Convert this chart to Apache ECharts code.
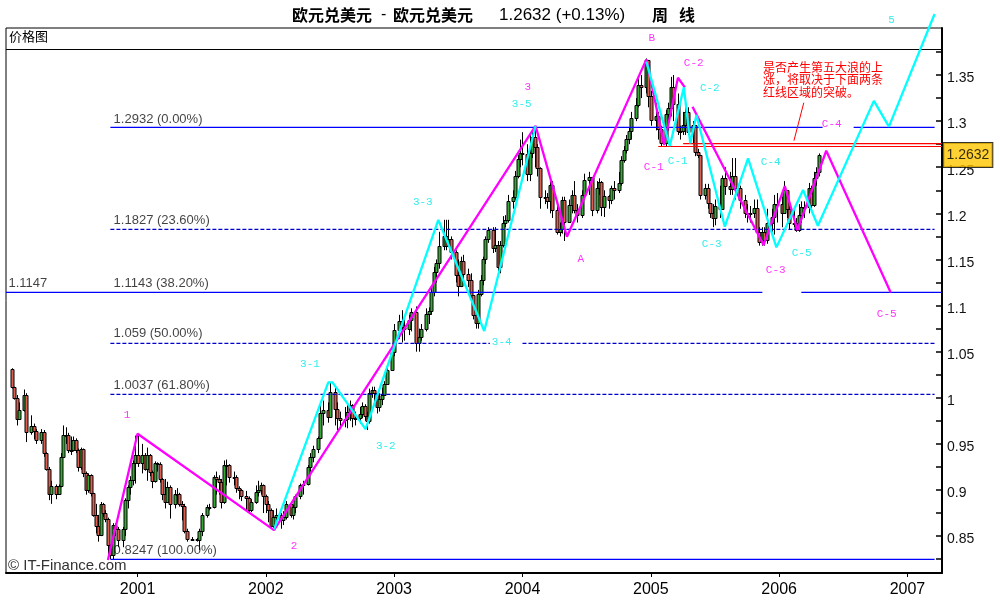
<!DOCTYPE html>
<html>
<head>
<meta charset="utf-8">
<style>html,body{margin:0;padding:0;background:#fff}#chart{width:1000px;height:600px}</style>
<script src="https://cdn.jsdelivr.net/npm/echarts@6/dist/echarts.min.js"></script>
</head>
<body>
<div id="chart"></div>
<script>
const firstOpen = 1.031;
// week number since Jan 2000, close, high, low of each bar; open is the previous close
const barWeeks = [
  1,2,3,4,6,7,9,10,11,13, 14,15,16,17,19,20,21,22,23,24, 25,26,27,28,29,30,31,32,33,34,
  35,36,37,38,39,40,41,42,43,44, 46,47,48,49,50,51,52,54,55,56, 57,58,59,60,61,62,63,64,65,67,
  68,69,70,71,72,74,76,77,78,80, 81,83,84,85,86,87,88,89,91,92, 93,94,96,97,98,100,101,102,103,104,
  105,106,107,108,110,111,112,114,115,116, 118,119,121,122,123,125,126,127,129,130, 132,133,134,136,137,138,139,140,142,143,
  144,145,146,147,148,149,150,151,152,153, 155,156,158,159,160,162,163,165,166,167, 169,170,171,172,173,174,176,177,178,179,
  181,182,183,184,186,187,188,189,190,191, 192,193,194,196,197,198,199,200,201,202, 204,205,206,207,208,210,211,212,213,214,
  215,217,218,219,220,222,223,224,225,227, 228,229,230,232,233,235,236,238,239,240, 241,243,244,245,247,248,249,250,251,252,
  254,255,256,258,259,260,262,263,264,266, 267,268,269,271,272,273,274,275,277,278, 279,280,282,283,284,285,286,288,289,290,
  292,293,294,296,298,299,300,302,303,304, 305,306,307,309,310,311,313,314,315,316, 318,319,320,321,322,324,325,326,327,328,
];
const barCloses = [
  1.012,1.000,.977,.987,1.003,.963,.969,.964,.954,.963, .940,.923,.896,.904,.896,.904,.936,.960,.960,.943, .943,.954,.943,.925,.944,.918,.900,.916,.897,.873,
  .861,.851,.885,.875,.869,.840,.829,.862,.858,.846, .858,.889,.903,.911,.929,.938,.929,.938,.923,.938, .919,.910,.929,.928,.912,.896,.887,.903,.885,.896,
  .896,.885,.883,.856,.847,.847,.846,.856,.873,.882, .882,.914,.912,.909,.887,.927,.927,.914,.914,.902, .900,.893,.891,.878,.887,.898,.900,.905,.893,.885,
  .878,.861,.871,.873,.867,.871,.885,.873,.882,.893, .905,.907,.925,.936,.945,.956,.983,.987,.979,1.006, .988,.978,.976,.977,.985,.992,.978,.978,.982,.991,
  .980,.975,1.005,1.008,1.005,.990,.999,1.003,1.015,1.030, 1.050,1.074,1.083,1.077,1.075,1.084,1.093,1.059,1.066,1.075, 1.091,1.094,1.115,1.136,1.146,1.165,1.175,1.165,1.172,1.158,
  1.133,1.121,1.148,1.134,1.128,1.111,1.090,1.081,1.113,1.128, 1.150,1.172,1.182,1.162,1.166,1.142,1.166,1.189,1.193,1.213, 1.218,1.241,1.259,1.265,1.264,1.243,1.265,1.283,1.272,1.249,
  1.218,1.218,1.213,1.231,1.204,1.180,1.183,1.215,1.191,1.209, 1.220,1.204,1.198,1.220,1.236,1.239,1.204,1.227,1.234,1.207, 1.219,1.214,1.227,1.225,1.233,1.258,1.269,1.281,1.289,1.303,
  1.317,1.339,1.337,1.366,1.327,1.301,1.306,1.292,1.276,1.308, 1.314,1.337,1.319,1.289,1.289,1.296,1.310,1.288,1.296,1.267, 1.263,1.220,1.228,1.211,1.200,1.195,1.208,1.205,1.238,1.230,
  1.226,1.241,1.227,1.214,1.200,1.200,1.200,1.206,1.180,1.169, 1.180,1.171,1.190,1.196,1.210,1.210,1.200,1.225,1.205,1.190, 1.190,1.182,1.198,1.207,1.207,1.228,1.209,1.238,1.245,1.2632,
];
const barHighs = [
  1.032,1.012,1.003,.995,1.009,1.005,.981,.972,.966,.966, .965,.941,.925,.910,.906,.906,.940,.970,.968,.962, .958,.958,.956,.945,.946,.945,.920,.918,.917,.897,
  .885,.873,.887,.886,.878,.870,.841,.864,.864,.860, .860,.891,.905,.915,.932,.959,.959,.950,.940,.946, .939,.921,.931,.930,.930,.913,.912,.909,.905,.900,
  .902,.897,.888,.885,.858,.849,.848,.858,.875,.884, .885,.916,.920,.916,.912,.932,.933,.928,.920,.916, .904,.901,.899,.893,.890,.905,.910,.908,.906,.895,
  .888,.880,.878,.880,.875,.877,.888,.887,.884,.895, .907,.910,.927,.940,.948,.958,.995,.997,.995,1.017, 1.012,.995,.985,.990,.992,.997,.993,.985,.990,.995,
  .993,.985,1.010,1.012,1.012,1.000,1.005,1.011,1.018,1.035, 1.055,1.080,1.090,1.095,1.085,1.090,1.097,1.099,1.075,1.080, 1.097,1.098,1.120,1.142,1.150,1.180,1.193,1.193,1.193,1.175,
  1.160,1.150,1.153,1.155,1.140,1.135,1.100,1.095,1.117,1.133, 1.153,1.175,1.185,1.185,1.185,1.170,1.170,1.197,1.198,1.220, 1.225,1.246,1.263,1.280,1.288,1.275,1.285,1.290,1.292,1.275,
  1.250,1.225,1.222,1.238,1.235,1.210,1.190,1.218,1.218,1.215, 1.225,1.235,1.210,1.225,1.243,1.245,1.235,1.235,1.238,1.235, 1.225,1.220,1.230,1.235,1.245,1.262,1.273,1.285,1.293,1.310,
  1.325,1.346,1.350,1.368,1.365,1.333,1.320,1.310,1.295,1.312, 1.320,1.348,1.350,1.330,1.295,1.310,1.315,1.315,1.300,1.283, 1.270,1.262,1.232,1.232,1.210,1.210,1.215,1.230,1.241,1.250,
  1.245,1.260,1.260,1.230,1.220,1.210,1.208,1.215,1.215,1.185, 1.185,1.185,1.205,1.205,1.220,1.222,1.218,1.235,1.225,1.208, 1.205,1.195,1.210,1.213,1.213,1.233,1.230,1.245,1.250,1.265,
];
const barLows = [
  1.010,.998,.970,.977,.985,.952,.960,.955,.950,.950, .936,.921,.889,.885,.890,.896,.903,.935,.950,.940, .938,.942,.940,.920,.922,.914,.895,.897,.893,.871,
  .853,.844,.850,.871,.865,.829,.825,.825,.850,.838, .838,.850,.880,.895,.905,.907,.925,.918,.921,.910, .915,.902,.908,.920,.908,.889,.880,.886,.869,.880,
  .885,.882,.867,.853,.844,.845,.844,.835,.850,.870, .878,.880,.895,.895,.880,.885,.905,.908,.905,.897, .890,.888,.878,.874,.876,.885,.893,.895,.875,.875,
  .865,.859,.858,.862,.858,.862,.868,.870,.868,.875, .890,.895,.905,.920,.930,.940,.955,.970,.973,.982, .970,.965,.966,.968,.967,.975,.968,.970,.972,.978,
  .975,.965,.972,1.000,.995,.983,.985,.992,1.002,1.015, 1.040,1.045,1.064,1.060,1.062,1.068,1.072,1.050,1.050,1.062, 1.072,1.080,1.090,1.110,1.125,1.140,1.160,1.160,1.165,1.150,
  1.125,1.110,1.120,1.125,1.120,1.105,1.085,1.075,1.075,1.110, 1.122,1.145,1.168,1.157,1.158,1.135,1.135,1.163,1.185,1.190, 1.205,1.215,1.238,1.250,1.252,1.235,1.235,1.260,1.250,1.240,
  1.205,1.210,1.205,1.200,1.195,1.177,1.175,1.178,1.170,1.195, 1.200,1.200,1.190,1.195,1.215,1.220,1.197,1.200,1.220,1.197, 1.196,1.205,1.210,1.215,1.222,1.230,1.255,1.265,1.275,1.280,
  1.300,1.315,1.325,1.330,1.315,1.295,1.290,1.280,1.273,1.272, 1.290,1.305,1.300,1.285,1.280,1.285,1.285,1.285,1.275,1.262, 1.260,1.215,1.215,1.205,1.195,1.185,1.187,1.195,1.205,1.220,
  1.220,1.220,1.215,1.205,1.195,1.190,1.190,1.195,1.177,1.165, 1.165,1.165,1.167,1.180,1.177,1.190,1.185,1.200,1.195,1.182, 1.185,1.180,1.180,1.190,1.195,1.200,1.205,1.207,1.230,1.240,
];

// wave counts, [week, price] along each drawn line
const mainWaveWeeks = [40, 52, 107.3, 213.3, 226, 258.2, 265.4, 271, 273.8];
const mainWavePrices = [.824, .961, .8565, 1.2948, 1.1747, 1.367, 1.2741, 1.347, 1.3366];
const wave5cWeeks = [276.9, 305.7, 314.3, 319.4, 331.1, 357.2];
const wave5cPrices = [1.3157, 1.1656, 1.2296, 1.1818, 1.2679, 1.1142];
const subWaveWeeks = [107.3, 129.3, 131, 144.4, 173.9, 192.5, 213.3];
const subWavePrices = [.8572, 1.0167, 1.0167, .966, 1.1928, 1.0724, 1.2948];
const cWaveWeeks = [258.2, 267.7, 273.4, 276, 278.5, 290, 299.4, 310.9, 321.7, 327.7, 350.4, 356.5, 375];
const cWavePrices = [1.3645, 1.273, 1.3366, 1.2759, 1.3066, 1.1855, 1.2596, 1.1631, 1.2253, 1.1866, 1.322, 1.294, 1.4162];

// retracement levels; the breaks leave room for the wave labels
const levelSolidPrices = [1.2932, 1.2932, 1.1143, 1.1143, .8247];
const levelSolidStarts = [41, 342.2, -1.3, 321, 41];
const levelSolidEnds = [329.6, 375, 305.2, 378, 375];
const levelDashPrices = [1.1827, 1.059, 1.059, 1.0037];
const levelDashStarts = [41, 41, 208, 41];
const levelDashEnds = [375, 194.8, 375, 375];
const levelTexts = ["1.2932 (0.00%)", "1.1827 (23.60%)", "1.1143 (38.20%)", "1.059 (50.00%)", "1.0037 (61.80%)", "0.8247 (100.00%)", "1.1147"];
const levelTextWeeks = [42.1, 42.1, 42.1, 42.1, 42.1, 42.1, -0.5];
const levelTextPrices = [1.3024, 1.1928, 1.1244, 1.0702, 1.0138, .8348, 1.1244];

const redPrices = [1.2757, 1.2725];
const redStarts = [273.1, 263];
const redEnd = 378;
const leaderWeeks = [322, 318];
const leaderPrices = [1.32, 1.2788];

const magentaTexts = ["1", "2", "3", "A", "B", "C-1", "C-2", "C-3", "C-4", "C-5"];
const magentaWeeks = [47.8, 115.4, 210.2, 231.6, 260.4, 261.2, 277.4, 310.6, 333.3, 355.6];
const magentaPrices = [.9812, .8391, 1.3371, 1.1505, 1.3902, 1.2503, 1.3631, 1.1385, 1.2969, 1.0908];
const cyanTexts = ["3-1", "3-2", "3-3", "3-4", "3-5", "C-1", "C-2", "C-3", "C-4", "C-5", "5"];
const cyanWeeks = [121.9, 152.6, 167.6, 199.6, 207.7, 270.9, 283.9, 284.7, 308.6, 321.1, 357.6];
const cyanPrices = [1.0366, .9476, 1.2123, 1.0604, 1.3186, 1.2568, 1.336, 1.1667, 1.2557, 1.157, 1.4097];

const noteText = "是否产生第五大浪的上\n涨，将取决于下面两条\n红线区域的突破。";
const lastPrice = 1.2632;

const yearTicks = [52, 104, 156, 208, 260, 312, 364];
const yearLabels = ["2001", "2002", "2003", "2004", "2005", "2006", "2007"];
const priceTicks = [.825, .85, .875, .9, .925, .95, .975, 1, 1.025, 1.05, 1.075, 1.1, 1.125, 1.15, 1.175, 1.2, 1.225, 1.25, 1.275, 1.3, 1.325, 1.35, 1.375];
const priceLabels = [.85, .9, .95, 1, 1.05, 1.1, 1.15, 1.2, 1.25, 1.3, 1.35];

const latin = '"Liberation Sans", Arial, sans-serif';
const cjk = '"Noto Sans CJK SC", sans-serif';
const mono = '"Liberation Mono", monospace';

const barData = barWeeks.map((week, i) => [
  week, i === 0 ? firstOpen : barCloses[i - 1], barCloses[i], barLows[i], barHighs[i],
]);

function renderBar(params, api) {
  const week = api.value(0);
  const open = api.coord([week, api.value(1)]);
  const close = api.coord([week, api.value(2)]);
  const low = api.coord([week, api.value(3)]);
  const high = api.coord([week, api.value(4)]);
  const x = Math.round(open[0]) + 0.5;
  const top = Math.round(Math.min(open[1], close[1])) + 0.5;
  const bottom = Math.round(Math.max(open[1], close[1])) + 0.5;
  return {
    type: "group",
    children: [
      {
        type: "line",
        shape: { x1: x, y1: high[1], x2: x, y2: low[1] },
        style: { stroke: "#000", lineWidth: 1 },
      },
      {
        type: "rect",
        shape: { x: x - 1.5, y: top, width: 3, height: Math.max(bottom - top, 1) },
        style: {
          fill: close[1] <= open[1] ? "#35a835" : "#dd5f50",
          stroke: "#000",
          lineWidth: 1,
        },
      },
    ],
  };
}

function lineSeries(weeks, prices, color, width, type) {
  return {
    type: "line",
    data: weeks.map((week, i) => [week, prices[i]]),
    showSymbol: false,
    symbol: "none",
    clip: false,
    silent: true,
    z: 5,
    lineStyle: { color, width, type: type || "solid", cap: "butt" },
  };
}

function textSeries(weeks, prices, texts, label) {
  return {
    type: "scatter",
    data: weeks.map((week, i) => ({ value: [week, prices[i]], name: texts[i] })),
    symbolSize: 1,
    clip: false,
    silent: true,
    z: 6,
    itemStyle: { color: "transparent" },
    label: { show: true, formatter: "{b}", ...label },
  };
}

const series = [
  {
    type: "custom",
    data: barData,
    renderItem: renderBar,
    encode: { x: 0, y: [1, 2, 3, 4] },
    silent: true,
    z: 2,
  },
];
levelSolidPrices.forEach((price, i) => {
  series.push(lineSeries([levelSolidStarts[i], levelSolidEnds[i]], [price, price], "#0000ff", 1.2));
});
levelDashPrices.forEach((price, i) => {
  series.push(lineSeries([levelDashStarts[i], levelDashEnds[i]], [price, price], "#0000cc", 1.2, [4, 2]));
});
redPrices.forEach((price, i) => {
  series.push(lineSeries([redStarts[i], redEnd], [price, price], "#ff0000", 1.2));
});
series.push(lineSeries(leaderWeeks, leaderPrices, "#ff0000", 1));
series.push(lineSeries(mainWaveWeeks, mainWavePrices, "#ff00ff", 2.3));
series.push(lineSeries(wave5cWeeks, wave5cPrices, "#ff00ff", 2.3));
series.push(lineSeries(subWaveWeeks, subWavePrices, "#00ffff", 2.3));
series.push(lineSeries(cWaveWeeks, cWavePrices, "#00ffff", 2.3));
series.push(textSeries(magentaWeeks, magentaPrices, magentaTexts, {
  position: "inside", color: "#ff00ff", fontSize: 11, fontFamily: mono,
}));
series.push(textSeries(cyanWeeks, cyanPrices, cyanTexts, {
  position: "inside", color: "#00e8e8", fontSize: 11, fontFamily: mono,
}));
series.push(textSeries(levelTextWeeks, levelTextPrices, levelTexts, {
  position: "right", distance: 0, color: "#111", fontSize: 13, fontFamily: latin,
}));
series.push(textSeries([378], [lastPrice], [lastPrice.toFixed(4)], {
  position: "right", distance: 1, color: "#000", fontSize: 14, fontFamily: latin,
  backgroundColor: "#ffc600", borderColor: "#000", borderWidth: 1, padding: [5, 3],
}));

const chart = echarts.init(document.getElementById("chart"), null, { renderer: "canvas" });
chart.setOption({
  animation: false,
  backgroundColor: "#fff",
  grid: { left: 6, right: 58, top: 28, bottom: 27, show: true, borderColor: "#000", borderWidth: 1 },
  xAxis: {
    type: "value",
    min: -1.3,
    max: 378,
    splitLine: { show: false },
    axisLine: { onZero: false, lineStyle: { color: "#000", width: 2 } },
    axisTick: { length: 4, lineStyle: { color: "#000" }, customValues: yearTicks },
    axisLabel: {
      customValues: yearTicks,
      formatter: (value) => yearLabels[yearTicks.indexOf(value)],
      color: "#000",
      fontSize: 16,
      fontFamily: latin,
      margin: 9,
    },
  },
  yAxis: {
    type: "value",
    position: "right",
    min: 0.81,
    max: 1.401,
    splitLine: { show: false },
    axisLine: { show: true, onZero: false, lineStyle: { color: "#000", width: 2 } },
    axisTick: { show: true, inside: true, length: 6, lineStyle: { color: "#000", width: 1.5 }, customValues: priceTicks },
    axisLabel: {
      customValues: priceLabels,
      color: "#111",
      fontSize: 14,
      fontFamily: latin,
      margin: 5,
      verticalAlign: "top",
      lineHeight: 7,
    },
  },
  graphic: [
    { type: "line", z: 1, shape: { x1: 6, y1: 49.5, x2: 942, y2: 49.5 }, style: { stroke: "#000", lineWidth: 1 } },
    { type: "text", left: 292, top: 7, style: { text: "欧元兑美元", font: `bold 16px ${cjk}`, fill: "#000" } },
    { type: "text", left: 381, top: 7, style: { text: "-", font: `16px ${latin}`, fill: "#000" } },
    { type: "text", left: 393, top: 7, style: { text: "欧元兑美元", font: `bold 16px ${cjk}`, fill: "#000" } },
    { type: "text", left: 499, top: 7, style: { text: "1.2632 (+0.13%)", font: `17px ${latin}`, fill: "#000" } },
    { type: "text", left: 652, top: 7, style: { text: "周", font: `bold 16px ${cjk}`, fill: "#000" } },
    { type: "text", left: 679, top: 7, style: { text: "线", font: `bold 16px ${cjk}`, fill: "#000" } },
    { type: "text", left: 9, top: 30, style: { text: "价格图", font: `13px ${cjk}`, fill: "#000" } },
    { type: "text", left: 8, top: 558, z: 10, style: { text: "© IT-Finance.com", font: `15px ${latin}`, fill: "#333" } },
    { type: "text", left: 763, top: 61, z: 10, style: { text: noteText, font: `12px ${cjk}`, fill: "#ff0000", lineHeight: 12.5 } },
  ],
  series,
});
</script>
</body>
</html>
